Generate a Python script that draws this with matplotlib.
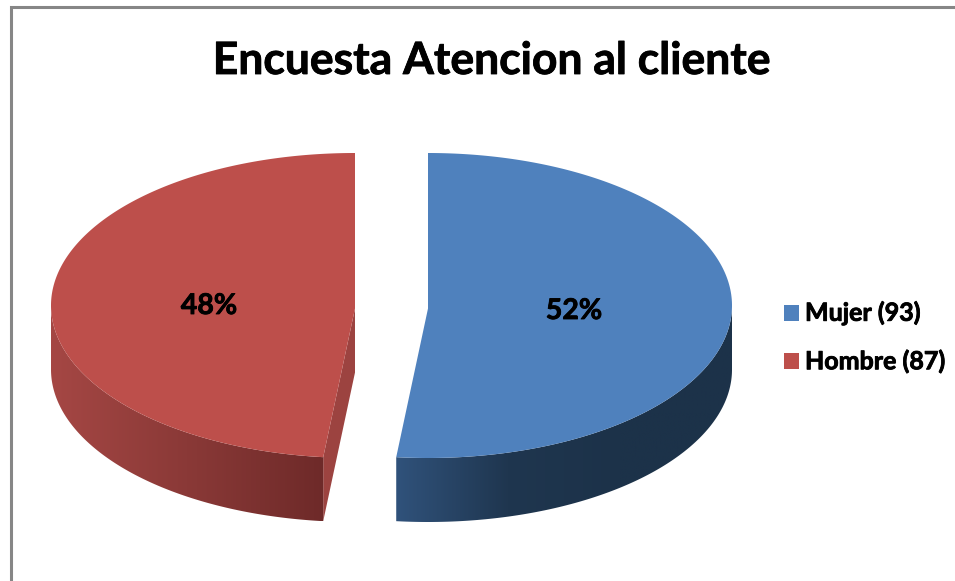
import numpy as np
import matplotlib
matplotlib.use('Agg')
import matplotlib.pyplot as plt
import matplotlib.patheffects as pe
from matplotlib.colors import LinearSegmentedColormap
from matplotlib.patches import Polygon, Rectangle

#Данные
labels = ['Mujer', 'Hombre']
values = [93, 87]
colors = ['#4F81BD', '#BD4F4B']
title = 'Encuesta Atencion al cliente'

plt.rcParams['font.family'] = ['Lato', 'DejaVu Sans']

fig = plt.figure(figsize=(9.55, 5.81), dpi=100)
ax = fig.add_axes([0, 0, 1, 1])

#Рамка
ax.plot([11, 11, 955], [581, 7, 7], color='#868686', lw=2.2, solid_joinstyle='miter')

#Геометрия псевдо-3D
rx = 304
ry = 152.5
cy = 305.5
depth = 64
centers = [428, 355]

cmap_blue = LinearSegmentedColormap.from_list('b', ['#30527B', '#1F364F', '#1C3249', '#1C3249'])
cmap_red = LinearSegmentedColormap.from_list('r', ['#6E2A29', '#8A3937', '#A54744'])

fractions = np.array(values) / sum(values)
cut = 2 * np.pi * fractions[0]


def ell(cx, t):
    return cx + rx * np.sin(t), cy - ry * np.cos(t)


#Боковая стенка: градиент по x, обрезанный по контуру
def wall(cx, t0, t1, cmap):
    ts = np.linspace(t0, t1, 200)
    x, y = ell(cx, ts)
    outline = np.c_[np.r_[x, x[::-1]], np.r_[y, y[::-1] + depth]]
    shape = Polygon(outline, closed=True, fc='none', ec='none', transform=ax.transData)
    ax.add_patch(shape)
    x_start, x_stop = x[0], x[-1]
    grad = np.linspace(0, 1, 256).reshape(1, -1)
    im = ax.imshow(grad, cmap=cmap, aspect='auto', zorder=2,
                   extent=[x_start, x_stop, y.max() + depth, y.min()])
    im.set_clip_path(shape)


wall(centers[0], cut, np.pi / 2, cmap_blue)
wall(centers[1], cut, 3 * np.pi / 2, cmap_red)

#Срез красного сектора
x_end, y_end = ell(centers[1], cut)
ax.fill([centers[1], x_end, x_end, centers[1]],
        [cy + 3, y_end, y_end + depth, cy + 3 + depth],
        color='#9C4340', lw=0, zorder=1)

#Верхние грани
t_blue = np.linspace(0, cut, 300)
x, y = ell(centers[0], t_blue)
ax.fill(np.r_[centers[0], x], np.r_[cy + 3, y], color=colors[0], lw=0, zorder=3)

t_red = np.linspace(cut, 2 * np.pi, 300)
x, y = ell(centers[1], t_red)
ax.fill(np.r_[centers[1], x], np.r_[cy + 3, y], color=colors[1], lw=0, zorder=3)

#Подписи
bold = [pe.withStroke(linewidth=0.6, foreground='black')]
ax.text(492, 61, title, fontsize=32, fontweight='bold', ha='center', va='center', path_effects=bold)
ax.text(574, 311, f'{fractions[0] * 100:.0f}%', fontsize=20.5, fontweight='bold',
        ha='center', va='center', zorder=5, path_effects=bold)
ax.text(209, 306, f'{fractions[1] * 100:.0f}%', fontsize=20.5, fontweight='bold',
        ha='center', va='center', zorder=5, path_effects=bold)

#Легенда
for i in range(2):
    y_leg = 312.5 + 48.5 * i
    ax.add_patch(Rectangle((784, y_leg - 8), 15, 16, color=colors[i], lw=0))
    ax.text(805, y_leg + 0.5, f'{labels[i]} ({values[i]})', fontsize=18, fontweight='bold',
            ha='left', va='center', path_effects=bold)

ax.set_xlim(0, 955)
ax.set_ylim(581, 0)
ax.axis('off')

fig.savefig('out.png', dpi=100)
